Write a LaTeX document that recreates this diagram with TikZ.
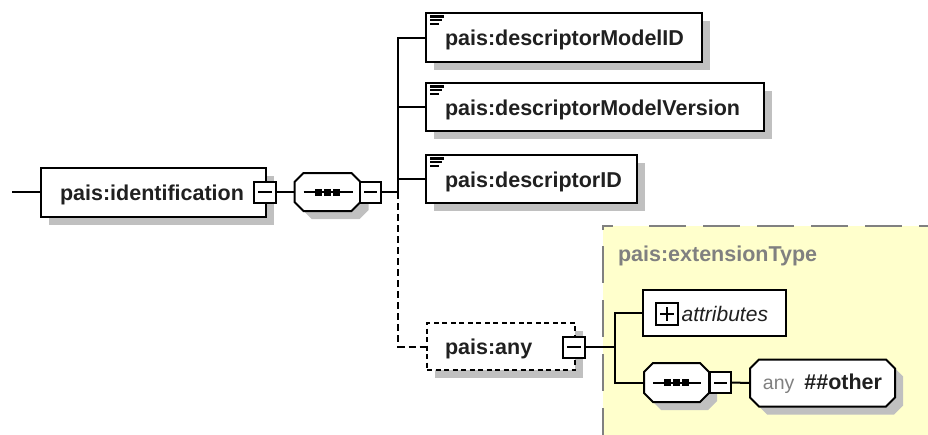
\documentclass[tikz,border=0pt]{standalone}
\usepackage{fontspec}
\setmainfont{Liberation Sans}
\usetikzlibrary{shadows}
\definecolor{txt}{RGB}{32,32,32}
\definecolor{shd}{RGB}{192,192,192}
\definecolor{ylw}{RGB}{255,255,204}
\definecolor{gry}{RGB}{128,128,128}
\pgfdeclarelayer{yl}
\pgfdeclarelayer{bg}
\pgfsetlayers{yl,bg,main}
\newcommand\elemicon[1]{\draw[line width=2.1pt] ([shift={(4,3.5)}]#1.north west) -- ++(13.5,0) ([shift={(4,7.2)}]#1.north west) -- ++(12,0) ([shift={(4,10.9)}]#1.north west) -- ++(9,0);}
\newcommand\octa[1]{%
  \fill[shd, transform canvas={shift={(8pt,-8pt)}}] ([xshift=9pt]#1.north west) -- ([xshift=-9pt]#1.north east) -- ([yshift=-9pt]#1.north east) -- ([yshift=9pt]#1.south east) -- ([xshift=-9pt]#1.south east) -- ([xshift=9pt]#1.south west) -- ([yshift=9pt]#1.south west) -- ([yshift=-9pt]#1.north west) -- cycle;
  \filldraw[fill=white, draw=black, line width=2pt] ([xshift=9pt]#1.north west) -- ([xshift=-9pt]#1.north east) -- ([yshift=-9pt]#1.north east) -- ([yshift=9pt]#1.south east) -- ([xshift=-9pt]#1.south east) -- ([xshift=9pt]#1.south west) -- ([yshift=9pt]#1.south west) -- ([yshift=-9pt]#1.north west) -- cycle;}
\newcommand\seqsym[1]{%
  \draw[line width=2pt] ([xshift=9pt]#1.west) -- ([xshift=-8pt]#1.east);
  \foreach \dx in {-9,0,9}{\fill[black] ([xshift=\dx pt]#1.center) +(-3.5,-3.5) rectangle +(3.5,3.5);}}
\begin{document}
\begin{tikzpicture}[x=1pt,y=-1pt,
  every node/.style={inner sep=0pt, outer sep=0pt},
  conn/.style={line width=2pt, draw=black},
  dconn/.style={conn, dash pattern=on 7pt off 4pt},
  shad/.style={drop shadow={shadow xshift=8pt, shadow yshift=-8pt, fill=shd, opacity=1}},
  elem/.style={draw=black, line width=2pt, fill=white, text=txt, align=left,
     font=\fontsize{21.5}{24}\selectfont\bfseries,
     execute at begin node={\hyphenpenalty=10000\relax},
     inner xsep=19pt, text height=16pt, text depth=0pt},
  expm/.style={draw=black, line width=2pt, fill=white, minimum width=21pt, minimum height=21pt,
     path picture={\draw[line width=2pt] ([xshift=4pt]path picture bounding box.west) -- ([xshift=-4pt]path picture bounding box.east);}},
  expp/.style={draw=black, line width=2pt, fill=white, minimum width=22pt, minimum height=22pt,
     path picture={\draw[line width=2pt] ([xshift=4pt]path picture bounding box.west) -- ([xshift=-4pt]path picture bounding box.east)
        ([yshift=-4pt]path picture bounding box.north) -- ([yshift=4pt]path picture bounding box.south);}},
  seqbox/.style={rectangle}
]
\useasboundingbox (0,0) rectangle (928,434);
% complex type area
\begin{pgfonlayer}{yl}
\fill[ylw] (603,226) rectangle (940,450);
\draw[gry, line width=2pt] (603,230) -- (603,226) -- (613,226);
\draw[gry, line width=2pt, dash pattern=on 37pt off 17pt] (649,226) -- (940,226);
\draw[gry, line width=2pt, dash pattern=on 37pt off 17pt] (603,246) -- (603,450);
\end{pgfonlayer}

% nodes
\node[elem, shad, minimum width=225pt, minimum height=49pt, text width=187pt] (ident) at (153.5,192) {pais:identification};
\node[expm, minimum width=22pt] (ie) at (265,192) {};
\node[seqbox, minimum width=66pt, minimum height=38pt] (seq1) at (327.5,192) {};
\begin{pgfonlayer}{bg}\octa{seq1}\seqsym{seq1}\end{pgfonlayer}
\node[expm] (se1) at (370.5,192) {};
\node[elem, shad, minimum width=276pt, minimum height=49pt, text width=238pt] (dmid) at (564,37.5) {pais:descriptorModelID};
\node[elem, shad, minimum width=338pt, minimum height=48pt, text width=300pt] (dmv) at (595,107) {pais:descriptorModelVersion};
\node[elem, shad, minimum width=211pt, minimum height=48pt, text width=173pt] (did) at (531.5,179) {pais:descriptorID};
\elemicon{dmid}
\elemicon{dmv}
\elemicon{did}
\node[elem, shad, dash pattern=on 5pt off 3.5pt, inner xsep=18pt, minimum width=148pt, minimum height=47pt, text width=112pt] (any) at (501,346.5) {pais:any};
\node[expm, minimum width=22pt] (ae) at (574,347) {};
\node[anchor=base west, text=gry, font=\fontsize{21.5}{24}\selectfont\bfseries] (ext) at (618,261) {pais:extensionType};
\node[elem, font=\fontsize{21}{24}\selectfont\itshape, align=right, inner xsep=18pt, minimum width=143pt, minimum height=46pt, text width=107pt] (attr) at (714.5,313) {attributes};
\node[expp] (pb) at (667,314) {};
\node[seqbox, minimum width=65pt, minimum height=39pt] (seq2) at (676.5,382.5) {};
\begin{pgfonlayer}{bg}\octa{seq2}\seqsym{seq2}\end{pgfonlayer}
\node[expm] (se2) at (720.5,382.5) {};
\node[minimum width=145pt, minimum height=47pt, text=txt, text height=14pt, text depth=1pt,
      font=\fontsize{21.5}{24}\selectfont] (anyo) at (822.5,383)
      {{\color{gry}\fontsize{19.5}{24}\selectfont any}\hspace{10pt}{\bfseries\#\#other}};
\begin{pgfonlayer}{bg}\octa{anyo}\end{pgfonlayer}

% connectors
\coordinate (in) at (12,192);
\coordinate (bus) at (398,192);
\coordinate (bus2) at (615,347);
\draw[conn] (in) -- (ident.west);
\draw[conn] (ie.east) -- (seq1.west);
\draw[conn] (se1.east) -- (bus);
\draw[conn] (bus) |- (dmid.west);
\draw[conn] (bus) |- (dmv.west);
\draw[conn] (bus) |- (did.west);
\draw[dconn] (bus) |- (any.west);
\draw[conn] (ae.east) -- (bus2);
\draw[conn] (bus2) |- (attr.west);
\draw[conn] (bus2) |- (seq2.west);
\draw[conn] (se2.east) -- (anyo.west);
\end{tikzpicture}
\end{document}
